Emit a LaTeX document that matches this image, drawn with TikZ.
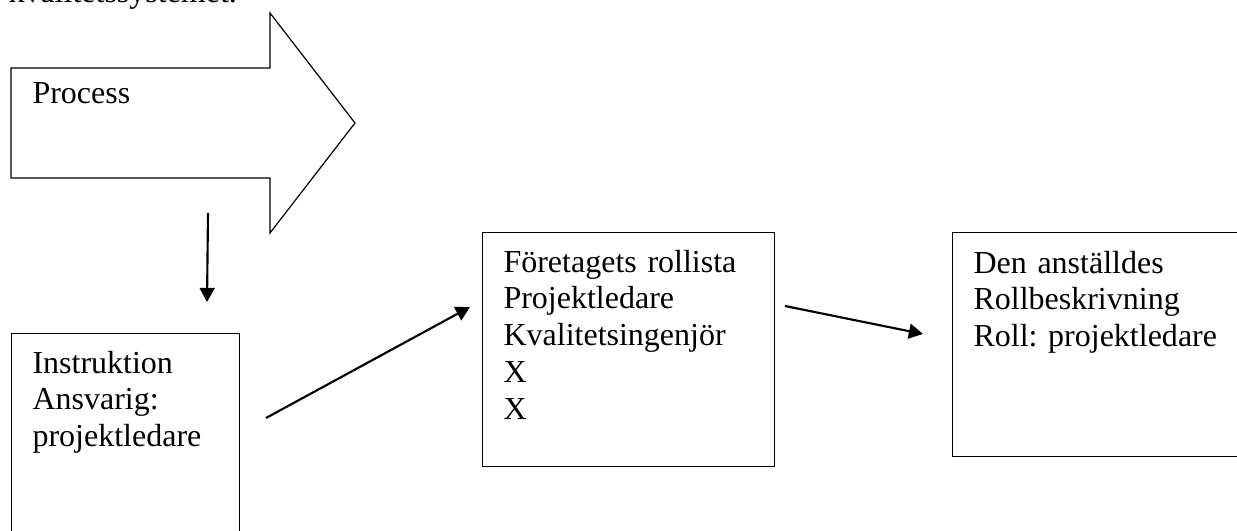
\documentclass[tikz,border=0pt]{standalone}
\usepackage{fontspec}
\setmainfont{Liberation Serif}
\frenchspacing
\usetikzlibrary{arrows.meta}
\tikzset{
  px/.style={x=0.375pt,y=-0.375pt},
  boxframe/.style={draw=black,line width=0.45pt},
  plaintext/.style={anchor=base west,inner sep=0pt,
    font=\fontsize{12}{13.8}\selectfont},
  bodytext/.style={plaintext,text width=97pt,align=left},
  flow/.style={line width=0.8pt,-{Triangle[length=5.3pt,width=5.6pt]}}
}
\begin{document}
\begin{tikzpicture}[px]
  \useasboundingbox (0,0) rectangle (1237,531);
  \clip (0,0) rectangle (1237,531);
  \fill[white] (0,0) rectangle (1237,531);

  % heading line running off the top edge
  \node[plaintext] (heading) at (8,3) {kvalitetssystemet.};

  % large block arrow
  \draw[boxframe] (11,68) -- (270,68) -- (270,13) -- (355,123)
    -- (270,233) -- (270,178) -- (11,178) -- cycle;
  \node[plaintext] (process) at (32,104) {Process};

  % boxes
  \node[boxframe,rectangle,anchor=north west,minimum width=228*0.375pt,
    minimum height=240*0.375pt,inner sep=0pt] (instr) at (11,333) {};
  \node[bodytext] (instrtext) at (32,373)
    {Instruktion\\Ansvarig:\\projektledare};

  \node[boxframe,rectangle,anchor=north west,minimum width=292*0.375pt,
    minimum height=234*0.375pt,inner sep=0pt] (roles) at (482,232) {};
  \node[bodytext] (rolestext) at (503,272)
    {Företagets rollista\\Projektledare\\Kvalitetsingenjör\\X\\X};

  \node[boxframe,rectangle,anchor=north west,minimum width=320*0.375pt,
    minimum height=224*0.375pt,inner sep=0pt] (desc) at (952,232) {};
  \node[bodytext] (desctext) at (973,273)
    {Den anställdes\\Rollbeskrivning\\Roll: projektledare};

  % connector end points
  \coordinate (a1) at (208,213);
  \coordinate (a2) at (207,302);
  \coordinate (b1) at (266,418);
  \coordinate (b2) at (470,307);
  \coordinate (c1) at (785,306);
  \coordinate (c2) at (923,334);

  \draw[flow] (a1) -- (a2);
  \draw[flow] (b1) -- (b2);
  \draw[flow] (c1) -- (c2);
\end{tikzpicture}
\end{document}
